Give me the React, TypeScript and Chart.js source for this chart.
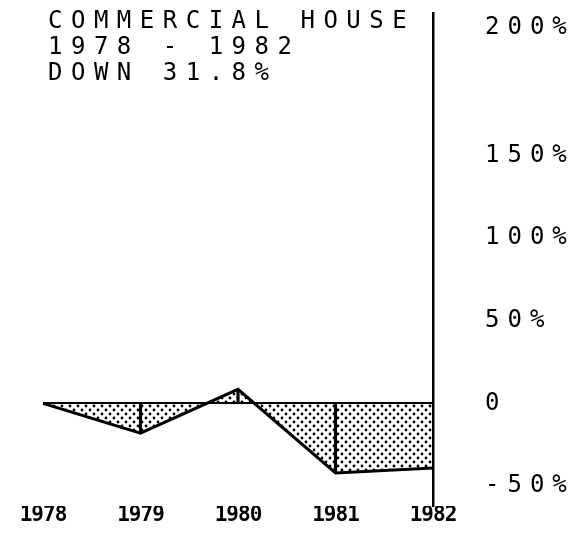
import React, { useEffect, useRef } from "react";
import { Chart, registerables } from "chart.js";

Chart.register(...registerables);

// ---- data ----
const years = ["1978", "1979", "1980", "1981", "1982"];
const changePct = [0, -18, 8.5, -42, -39];
const titleLines = ["COMMERCIAL HOUSE", "1978 - 1982", "DOWN 31.8%"];
// the plotted axis puts its "200%" label near the top end of the axis
const yTickValues = [-50, 0, 50, 100, 150, 227];
const yTickLabels = ["-50%", "0", "50%", "100%", "150%", "200%"];
const Y_MIN = -62;
const Y_MAX = 236;

const MONO = "'DejaVu Sans Mono', 'Liberation Mono', monospace";

function makeDotPattern(): CanvasPattern | string {
  const c = document.createElement("canvas");
  c.width = 8;
  c.height = 8;
  const g = c.getContext("2d");
  if (!g) return "rgba(0,0,0,0.3)";
  g.fillStyle = "#000";
  g.beginPath();
  g.arc(2, 2, 1.4, 0, Math.PI * 2);
  g.fill();
  g.beginPath();
  g.arc(6, 6, 1.4, 0, Math.PI * 2);
  g.fill();
  return g.createPattern(c, "repeat") || "rgba(0,0,0,0.3)";
}

const spacingPlugin = {
  id: "letterSpacingPlugin",
  beforeDraw(chart: any) {
    (chart.ctx as any).letterSpacing = "-1px";
  },
  afterDatasetsDraw(chart: any) {
    (chart.ctx as any).letterSpacing = "8px";
  },
  afterDraw(chart: any) {
    const ctx = chart.ctx;
    ctx.save();
    (ctx as any).letterSpacing = "8.5px";
    ctx.fillStyle = "#000";
    ctx.font = `24px ${MONO}`;
    ctx.textAlign = "left";
    ctx.textBaseline = "middle";
    const ys = [22, 48, 74];
    titleLines.forEach((t, i) => ctx.fillText(t, 48, ys[i]));
    ctx.restore();
    (ctx as any).letterSpacing = "0px";
  },
};

export default function App() {
  const ref = useRef<HTMLCanvasElement | null>(null);

  useEffect(() => {
    if (!ref.current) return;
    const last = changePct.length - 1;
    const dividers = changePct.map((v, i) => (i === 0 || i === last ? null : v));
    const chart = new Chart(ref.current, {
      type: "line",
      data: {
        labels: years,
        datasets: [
          {
            type: "line",
            data: changePct,
            borderColor: "#000",
            borderWidth: 3,
            backgroundColor: makeDotPattern() as any,
            fill: "origin",
            pointRadius: 0,
            tension: 0,
          },
          {
            type: "bar",
            data: dividers as any,
            backgroundColor: "#000",
            borderWidth: 0,
            barThickness: 2.5,
          },
        ],
      },
      options: {
        animation: false,
        responsive: false,
        events: [],
        layout: { padding: { left: 43, top: 13, right: 0, bottom: 0 } },
        plugins: {
          legend: { display: false },
          title: { display: false },
          tooltip: { enabled: false },
        },
        scales: {
          x: {
            type: "category",
            offset: false,
            grid: { display: false, drawTicks: false, offset: false },
            border: { display: false },
            ticks: {
              color: "#000",
              font: { family: MONO, size: 21, weight: "bold", lineHeight: 1 },
              padding: -1,
              maxRotation: 0,
              autoSkip: false,
            },
            afterFit: (s: any) => {
              s.height = 31;
            },
          },
          y: {
            type: "linear",
            position: "right",
            min: Y_MIN,
            max: Y_MAX,
            afterBuildTicks: (s: any) => {
              s.ticks = yTickValues.map((value) => ({ value }));
            },
            grid: {
              drawTicks: false,
              color: (c: any) => (c.tick && c.tick.value === 0 ? "#000" : "rgba(0,0,0,0)"),
              lineWidth: 2,
            },
            border: { display: true, color: "#000", width: 2.5 },
            ticks: {
              z: 1,
              color: "#000",
              padding: 52,
              font: { family: MONO, size: 24 },
              callback: (_v: any, i: number) => yTickLabels[i],
            },
            afterFit: (s: any) => {
              s.width = 147;
              s.paddingTop = 0;
              s.paddingBottom = 0;
            },
          },
        },
      },
      plugins: [spacingPlugin],
    });
    return () => chart.destroy();
  }, []);

  return (
    <div style={{ position: "fixed", left: 0, top: 0, width: 580, height: 537, background: "#fff" }}>
      <canvas ref={ref} width={580} height={537} style={{ display: "block" }} />
    </div>
  );
}
